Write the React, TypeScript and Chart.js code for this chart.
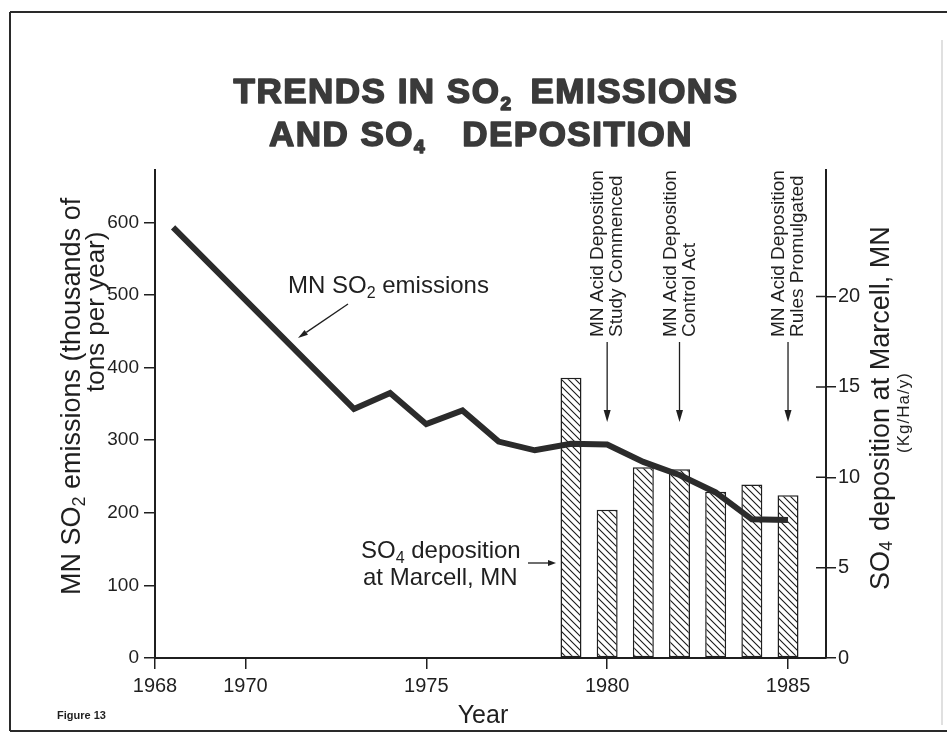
import React, { useEffect, useRef } from "react";
import { Chart, registerables } from "chart.js";

Chart.register(...registerables);

// ---- data ----
const emissionYears = [1968, 1973, 1974, 1975, 1976, 1977, 1978, 1979, 1980, 1981, 1982, 1983, 1984, 1985];
const emissionValues = [593, 343, 365, 322, 341, 298, 286, 295, 294, 270, 252, 228, 191, 190];
const depositionYears = [1979, 1980, 1981, 1982, 1983, 1984, 1985];
const depositionValues = [15.5, 8.2, 10.55, 10.45, 9.2, 9.6, 9.0];
const xTickValues = [1967.5, 1970, 1975, 1980, 1985];
const xTickLabels = ["1968", "1970", "1975", "1980", "1985"];
const leftTicks = [0, 100, 200, 300, 400, 500, 600];
const rightTicks = [0, 5, 10, 15, 20];
const eventYears = [1980, 1982, 1985];
const eventTexts = [
  ["MN Acid Deposition", "Study Commenced"],
  ["MN Acid Deposition", "Control Act"],
  ["MN Acid Deposition", "Rules Promulgated"],
];

const FONT = "'Liberation Sans', Arial, Helvetica, sans-serif";
const INK = "#1f1f1f";

type Part = { t?: string; size?: number; weight?: string; dy?: number; gap?: number };

function drawRun(ctx: CanvasRenderingContext2D, parts: Part[], x: number, y: number, draw = true, stroke = 0) {
  let cx = x;
  for (const p of parts) {
    if (p.gap) {
      cx += p.gap;
      continue;
    }
    ctx.font = `${p.weight || "normal"} ${p.size}px ${FONT}`;
    if (draw) {
      ctx.fillText(p.t as string, cx, y + (p.dy || 0));
      if (stroke > 0) ctx.strokeText(p.t as string, cx, y + (p.dy || 0));
    }
    cx += ctx.measureText(p.t as string).width;
  }
  return cx - x;
}

function arrow(ctx: CanvasRenderingContext2D, x1: number, y1: number, x2: number, y2: number, head: number, half: number, w = 1.3) {
  const a = Math.atan2(y2 - y1, x2 - x1);
  const bx = x2 - head * Math.cos(a);
  const by = y2 - head * Math.sin(a);
  ctx.save();
  ctx.strokeStyle = INK;
  ctx.fillStyle = INK;
  ctx.lineWidth = w;
  ctx.beginPath();
  ctx.moveTo(x1, y1);
  ctx.lineTo(bx, by);
  ctx.stroke();
  ctx.beginPath();
  ctx.moveTo(x2, y2);
  ctx.lineTo(bx + half * Math.sin(a), by - half * Math.cos(a));
  ctx.lineTo(bx - half * Math.sin(a), by + half * Math.cos(a));
  ctx.closePath();
  ctx.fill();
  ctx.restore();
}

function rotatedRun(ctx: CanvasRenderingContext2D, parts: Part[], x: number, y: number) {
  ctx.save();
  ctx.translate(x, y);
  ctx.rotate(-Math.PI / 2);
  drawRun(ctx, parts, 0, 0);
  ctx.restore();
}

const decorPlugin = {
  id: "decor",
  afterDraw(chart: any) {
    const ctx: CanvasRenderingContext2D = chart.ctx;
    const xs = chart.scales.x;
    const yR = chart.scales.yR;
    const area = chart.chartArea;
    ctx.save();
    ctx.textBaseline = "alphabetic";
    ctx.textAlign = "left";
    ctx.fillStyle = INK;
    ctx.strokeStyle = INK;

    // frame
    ctx.lineWidth = 2;
    ctx.strokeStyle = "#2a2a2a";
    ctx.beginPath();
    ctx.moveTo(10, 12);
    ctx.lineTo(947, 12);
    ctx.moveTo(10, 12);
    ctx.lineTo(10, 731);
    ctx.moveTo(10, 731);
    ctx.lineTo(947, 731);
    ctx.stroke();
    ctx.strokeStyle = "#d6d6d6";
    ctx.lineWidth = 1.5;
    ctx.beginPath();
    ctx.moveTo(942, 40);
    ctx.lineTo(942, 725);
    ctx.stroke();

    // title
    ctx.save();
    ctx.fillStyle = "#3a3a3a";
    ctx.strokeStyle = "#3a3a3a";
    ctx.lineWidth = 1.6;
    ctx.lineJoin = "round";
    (ctx as any).letterSpacing = "1.5px";
    const l1: Part[] = [
      { t: "TRENDS IN SO", size: 35, weight: "bold" },
      { t: "2", size: 19, weight: "bold", dy: 7 },
      { gap: 18 },
      { t: "EMISSIONS", size: 35, weight: "bold" },
    ];
    const l2: Part[] = [
      { t: "AND SO", size: 35, weight: "bold" },
      { t: "4", size: 19, weight: "bold", dy: 7 },
      { gap: 36 },
      { t: "DEPOSITION", size: 35, weight: "bold" },
    ];
    const w1 = drawRun(ctx, l1, 0, 0, false);
    const w2 = drawRun(ctx, l2, 0, 0, false);
    drawRun(ctx, l1, 486 - w1 / 2, 103, true, 1);
    drawRun(ctx, l2, 481 - w2 / 2, 146, true, 1);
    ctx.restore();

    ctx.fillStyle = INK;
    // left axis title
    rotatedRun(
      ctx,
      [
        { t: "MN SO", size: 27 },
        { t: "2", size: 18, dy: 5 },
        { t: " emissions (thousands of", size: 27 },
      ],
      80,
      595
    );
    rotatedRun(ctx, [{ t: "tons per year)", size: 26 }], 104, 392);

    // right axis title
    rotatedRun(
      ctx,
      [
        { t: "SO", size: 27 },
        { t: "4", size: 18, dy: 3 },
        { gap: 10 },
        { t: "deposition at Marcell, MN", size: 27 },
      ],
      889,
      590
    );
    ctx.save();
    (ctx as any).letterSpacing = "1px";
    rotatedRun(ctx, [{ t: "(Kg/Ha/y)", size: 17 }], 909, 453);
    ctx.restore();

    // x axis title and figure label
    ctx.textAlign = "center";
    ctx.font = `normal 25px ${FONT}`;
    ctx.fillText("Year", 483, 723);
    ctx.textAlign = "left";
    ctx.font = `bold 11px ${FONT}`;
    ctx.fillText("Figure 13", 57, 719);

    // right axis inward ticks
    ctx.strokeStyle = INK;
    ctx.lineWidth = 1.5;
    ctx.beginPath();
    for (const v of rightTicks) {
      const y = yR.getPixelForValue(v);
      ctx.moveTo(area.right - 10, y);
      ctx.lineTo(area.right, y);
    }
    ctx.stroke();

    // event annotations
    eventYears.forEach((yr, i) => {
      const x = xs.getPixelForValue(yr);
      rotatedRun(ctx, [{ t: eventTexts[i][0], size: 19 }], x - 4, 337);
      rotatedRun(ctx, [{ t: eventTexts[i][1], size: 19 }], x + 15, 337);
      arrow(ctx, x, 342, x, 422, 12, 3.5);
    });

    // series labels
    drawRun(
      ctx,
      [
        { t: "MN SO", size: 24 },
        { t: "2", size: 16, dy: 5 },
        { t: " emissions", size: 24 },
      ],
      288,
      293
    );
    arrow(ctx, 348, 304, 298, 338, 10, 3);

    drawRun(
      ctx,
      [
        { t: "SO", size: 24 },
        { t: "4", size: 16, dy: 5 },
        { t: " deposition", size: 24 },
      ],
      361,
      558
    );
    drawRun(ctx, [{ t: "at Marcell, MN", size: 24 }], 363, 585);
    arrow(ctx, 528, 563, 556, 563, 8, 3);

    ctx.restore();
  },
};

function makeHatch(): CanvasPattern | string {
  const c = document.createElement("canvas");
  const s = 7;
  c.width = s;
  c.height = s;
  const g = c.getContext("2d");
  if (!g) return "#fff";
  g.fillStyle = "#ffffff";
  g.fillRect(0, 0, s, s);
  g.strokeStyle = "#1a1a1a";
  g.lineWidth = 1.1;
  g.beginPath();
  g.moveTo(0, 0);
  g.lineTo(s, s);
  g.moveTo(-1, s - 1);
  g.lineTo(1, s + 1);
  g.moveTo(s - 1, -1);
  g.lineTo(s + 1, 1);
  g.stroke();
  const p = g.createPattern(c, "repeat");
  return p || "#fff";
}

export default function App() {
  const ref = useRef<HTMLCanvasElement | null>(null);

  useEffect(() => {
    if (!ref.current) return;
    const hatch = makeHatch();
    const tickFont = { family: FONT, size: 19 };
    const chart = new Chart(ref.current, {
      type: "bar",
      data: {
        datasets: [
          {
            type: "line",
            label: "MN SO2 emissions",
            data: emissionYears.map((x, i) => ({ x, y: emissionValues[i] })),
            xAxisID: "x",
            yAxisID: "yL",
            borderColor: "#2b2b2b",
            borderWidth: 6,
            pointRadius: 0,
            tension: 0,
            fill: false,
            borderJoinStyle: "miter",
            borderCapStyle: "butt",
            order: 0,
          } as any,
          {
            type: "bar",
            label: "SO4 deposition",
            data: depositionYears.map((x, i) => ({ x, y: depositionValues[i] })),
            xAxisID: "x",
            yAxisID: "yR",
            backgroundColor: hatch as any,
            borderColor: INK,
            borderWidth: 1.5,
            borderSkipped: false,
            barPercentage: 0.58,
            categoryPercentage: 1,
            order: 1,
          } as any,
        ],
      },
      options: {
        responsive: false,
        animation: false,
        devicePixelRatio: 1,
        layout: { padding: { top: 170, left: 0, right: 0, bottom: 0 } },
        plugins: {
          legend: { display: false },
          tooltip: { enabled: false },
          title: { display: false },
        },
        scales: {
          x: {
            type: "linear",
            min: 1967.5,
            max: 1986.05,
            offset: false,
            afterBuildTicks: (s: any) => {
              s.ticks = xTickValues.map((v) => ({ value: v }));
            },
            afterFit: (s: any) => {
              s.height = 83;
            },
            ticks: {
              callback: (_v: any, i: number) => xTickLabels[i],
              color: INK,
              font: { family: FONT, size: 20 },
              padding: 5,
              maxRotation: 0,
              autoSkip: false,
            },
            grid: {
              display: true,
              drawOnChartArea: false,
              drawTicks: true,
              tickLength: 11,
              color: INK,
              lineWidth: 1.5,
              offset: false,
            },
            border: { display: true, color: INK, width: 2 },
          },
          yL: {
            type: "linear",
            position: "left",
            min: 0,
            max: 672,
            afterBuildTicks: (s: any) => {
              s.ticks = leftTicks.map((v) => ({ value: v }));
            },
            afterFit: (s: any) => {
              s.width = 155;
            },
            ticks: { color: INK, font: tickFont, padding: 5 },
            grid: {
              display: true,
              drawOnChartArea: false,
              drawTicks: true,
              tickLength: 11,
              color: INK,
              lineWidth: 1.5,
            },
            border: { display: true, color: INK, width: 2 },
          },
          yR: {
            type: "linear",
            position: "right",
            min: 0,
            max: 27,
            afterBuildTicks: (s: any) => {
              s.ticks = rightTicks.map((v) => ({ value: v }));
            },
            afterFit: (s: any) => {
              s.width = 121;
            },
            ticks: { color: INK, font: { family: FONT, size: 20 }, padding: 2 },
            grid: {
              display: true,
              drawOnChartArea: false,
              drawTicks: true,
              tickLength: 10,
              color: INK,
              lineWidth: 1.5,
            },
            border: { display: true, color: INK, width: 2 },
          },
        },
      } as any,
      plugins: [decorPlugin],
    });
    return () => chart.destroy();
  }, []);

  return (
    <div style={{ position: "absolute", left: 0, top: 0, width: 947, height: 741, background: "#fff" }}>
      <canvas ref={ref} width={947} height={741} style={{ display: "block", width: 947, height: 741 }} />
    </div>
  );
}
